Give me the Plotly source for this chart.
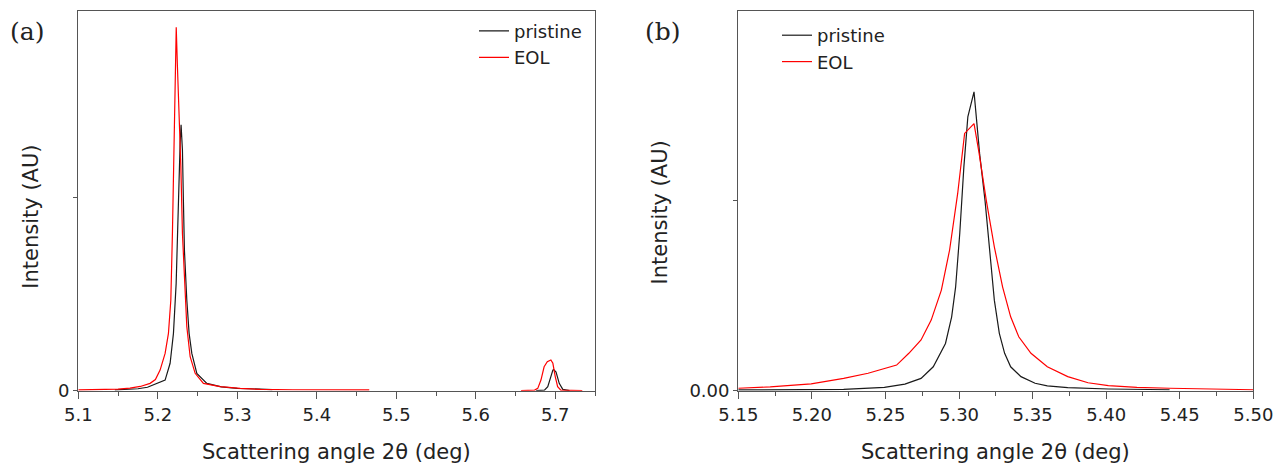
import plotly.graph_objects as go

# ---- Panel (a): wide scan, 5.10-5.75 deg ----
a_pristine_x = [5.146, 5.160, 5.175, 5.187, 5.1987, 5.2092, 5.2155, 5.2197, 5.2231, 5.2252,
                5.2268, 5.2281, 5.2293, 5.2310, 5.2322, 5.2335, 5.2365, 5.2394, 5.2428, 5.2491,
                5.2617, 5.280, 5.300, 5.320, 5.344, None,
                5.676, 5.6864, 5.6906, 5.694, 5.697, 5.698, 5.701, 5.705, 5.7095, 5.718]
a_pristine_y = [0.004, 0.006, 0.010, 0.018, 0.036, 0.055, 0.142, 0.297, 0.556, 0.901,
                1.161, 1.282, 1.377, 1.247, 0.988, 0.729, 0.470, 0.297, 0.193, 0.090,
                0.038, 0.020, 0.012, 0.008, 0.006, None,
                0.000, 0.003, 0.021, 0.073, 0.107, 0.110, 0.097, 0.038, 0.007, 0.000]

a_eol_x = [5.100, 5.130, 5.150, 5.165, 5.178, 5.1903, 5.197, 5.2029, 5.2092, 5.2134,
           5.2164, 5.2184, 5.2197, 5.2209, 5.2222, 5.2232, 5.2247, 5.2272, 5.2290, 5.2310,
           5.2335, 5.2365, 5.2407, 5.2470, 5.2574, 5.2785, 5.3037, 5.3289, 5.370, 5.420,
           5.466, None,
           5.657, 5.674, 5.678, 5.682, 5.686, 5.690, 5.6945, 5.697, 5.700, 5.703, 5.707, 5.734]
a_eol_y = [0.004, 0.005, 0.008, 0.013, 0.022, 0.038, 0.058, 0.107, 0.193, 0.297,
           0.470, 0.815, 1.161, 1.506, 1.765, 1.883, 1.679, 1.420, 1.161, 0.815,
           0.556, 0.332, 0.176, 0.090, 0.038, 0.021, 0.012, 0.007, 0.005, 0.004,
           0.004, None,
           0.000, 0.003, 0.012, 0.055, 0.124, 0.150, 0.159, 0.142, 0.073, 0.021, 0.003, 0.000]

# ---- Panel (b): close-up of the 5.31 deg reflection ----
b_pristine_x = [5.150, 5.2216, 5.2493, 5.2632, 5.2742, 5.2825, 5.2908, 5.2950, 5.2977, 5.3005,
                5.3033, 5.3060, 5.3102, 5.3140, 5.3177, 5.3199, 5.3218, 5.3240, 5.3274, 5.3310,
                5.3351, 5.3421, 5.3517, 5.3600, 5.3739, 5.4015, 5.4431]
b_pristine_y = [0.004, 0.007, 0.018, 0.035, 0.065, 0.126, 0.249, 0.389, 0.547, 0.828,
                1.179, 1.442, 1.574, 1.250, 1.000, 0.828, 0.653, 0.477, 0.302, 0.197,
                0.126, 0.074, 0.039, 0.025, 0.016, 0.009, 0.005]

b_eol_x = [5.150, 5.1717, 5.1995, 5.2216, 5.2382, 5.2493, 5.2576, 5.2659, 5.2742, 5.2811,
           5.2880, 5.2936, 5.2991, 5.3038, 5.3102, 5.3135, 5.3185, 5.3240, 5.3296, 5.3351,
           5.3406, 5.3489, 5.3600, 5.3739, 5.3877, 5.4015, 5.4209, 5.4431, 5.4708, 5.4874,
           5.500]
b_eol_y = [0.013, 0.020, 0.036, 0.065, 0.092, 0.118, 0.135, 0.197, 0.267, 0.372,
           0.530, 0.741, 1.039, 1.355, 1.407, 1.258, 1.004, 0.758, 0.547, 0.389,
           0.284, 0.197, 0.126, 0.074, 0.042, 0.027, 0.018, 0.013, 0.010, 0.008,
           0.005]

series_names = ["pristine", "EOL"]
series_colors = ["#1a1a1a", "#ff0000"]

W, H = 1278, 466
SANS = "DejaVu Sans"
TEXT = "#222222"
AXIS = "#555555"

fig = go.Figure()

panels = [
    ("x", "y", "legend", a_pristine_x, a_pristine_y, a_eol_x, a_eol_y),
    ("x2", "y2", "legend2", b_pristine_x, b_pristine_y, b_eol_x, b_eol_y),
]
for xa, ya, leg, px, py, ex, ey in panels:
    for name, color, xs, ys in [(series_names[0], series_colors[0], px, py),
                                (series_names[1], series_colors[1], ex, ey)]:
        fig.add_trace(go.Scatter(x=xs, y=ys, mode="lines", name=name,
                                 line=dict(color=color, width=1.2),
                                 xaxis=xa, yaxis=ya, legend=leg))


def px_x(p):
    return p / W


def px_y(p):
    return 1 - p / H


y_dom = [px_y(390.7), px_y(11.0)]

common_x = dict(showline=True, linecolor=AXIS, linewidth=1.4, mirror=True,
                ticks="outside", ticklen=7, tickwidth=1.3, tickcolor=AXIS,
                showgrid=False, zeroline=False, automargin=False,
                tickfont=dict(family=SANS, size=18, color=TEXT))
common_y = dict(showline=True, linecolor=AXIS, linewidth=1.4, mirror=True,
                ticks="outside", ticklen=4, tickwidth=1.3, tickcolor=AXIS,
                showgrid=False, zeroline=False, automargin=False,
                tickfont=dict(family=SANS, size=18, color=TEXT))

fig.update_layout(
    width=W, height=H, autosize=False,
    margin=dict(l=0, r=0, t=0, b=0, pad=0, autoexpand=False),
    paper_bgcolor="white", plot_bgcolor="white",
    xaxis=dict(domain=[px_x(78.3), px_x(595.0)], range=[5.1, 5.75],
               dtick=0.1, tick0=5.1, tickformat=".1f", anchor="y",
               minor=dict(ticks="outside", ticklen=4, tickwidth=1.3, tickcolor=AXIS,
                          dtick=0.05, tick0=5.1),
               **common_x),
    yaxis=dict(domain=y_dom, range=[0, 1.967], anchor="x",
               tickvals=[0, 1], ticktext=["0", ""], **common_y),
    xaxis2=dict(domain=[px_x(738.3), px_x(1253.3)], range=[5.15, 5.50],
                dtick=0.05, tick0=5.15, tickformat=".2f", anchor="y2",
                minor=dict(ticks="outside", ticklen=4, tickwidth=1.3, tickcolor=AXIS,
                           dtick=0.025, tick0=5.15),
                **common_x),
    yaxis2=dict(domain=y_dom, range=[0, 2.0], anchor="x2",
                tickvals=[0, 1], ticktext=["0.00", ""], **common_y),
    legend=dict(x=px_x(474), y=px_y(12.7), xanchor="left", yanchor="top",
                bgcolor="rgba(0,0,0,0)", borderwidth=0,
                font=dict(family=SANS, size=18, color=TEXT)),
    legend2=dict(x=px_x(777), y=px_y(17), xanchor="left", yanchor="top",
                 bgcolor="rgba(0,0,0,0)", borderwidth=0,
                 font=dict(family=SANS, size=18, color=TEXT)),
)

annotations = [
    dict(text="(a)", x=px_x(27.5), y=px_y(31.5)),
    dict(text="(b)", x=px_x(662.5), y=px_y(31.5)),
]
for ann in annotations:
    ann.update(xref="paper", yref="paper", showarrow=False, xanchor="center", yanchor="middle",
               font=dict(family="DejaVu Serif", size=25, color=TEXT))
    fig.add_annotation(**ann)

for cx in (336.7, 995.8):
    fig.add_annotation(text="Scattering angle 2θ (deg)", x=px_x(cx), y=px_y(451.7),
                       xref="paper", yref="paper", showarrow=False,
                       xanchor="center", yanchor="middle",
                       font=dict(family=SANS, size=21, color=TEXT))
for cx, cy in ((31.0, 216.7), (660.0, 212.5)):
    fig.add_annotation(text="Intensity (AU)", x=px_x(cx), y=px_y(cy),
                       xref="paper", yref="paper", showarrow=False, textangle=-90,
                       xanchor="center", yanchor="middle",
                       font=dict(family=SANS, size=21, color=TEXT))

fig.write_html("out.html")
